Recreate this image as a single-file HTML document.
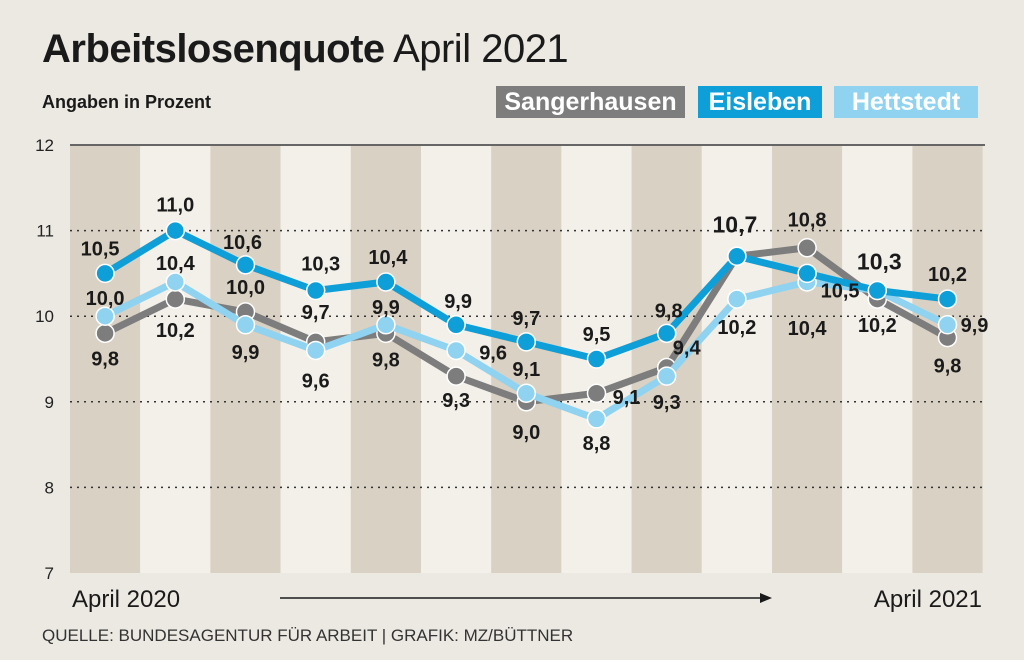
<!DOCTYPE html>
<html><head><meta charset="utf-8"><style>
body{margin:0;background:#ece9e2;font-family:"Liberation Sans",sans-serif;}
#wrap{position:relative;width:1024px;height:660px;overflow:hidden;background:#ece9e2}
.t{position:absolute;color:#1a1a1a}
.lg{position:absolute;top:86px;height:32px;line-height:32px;color:#fff;font-weight:bold;font-size:25px;text-align:center}
</style></head><body>
<div id="wrap">
<div class="t" style="left:42px;top:27px;font-size:40px;letter-spacing:-0.5px"><b>Arbeitslosenquote</b> April 2021</div>
<div class="t" style="left:42px;top:92px;font-size:18px;font-weight:bold">Angaben in Prozent</div>
<div class="lg" style="left:496px;width:189px;background:#7d7d7d">Sangerhausen</div>
<div class="lg" style="left:698px;width:124px;background:#0f9fd8">Eisleben</div>
<div class="lg" style="left:834px;width:144px;background:#8fd3f0">Hettstedt</div>
<svg id="chart" width="1024" height="660" style="position:absolute;left:0;top:0"></svg>
<div class="t" style="left:42px;top:626px;font-size:17px;color:#333">QUELLE: BUNDESAGENTUR FÜR ARBEIT | GRAFIK: MZ/BÜTTNER</div>
</div>
<script>
const months = ["Apr","Mai","Jun","Jul","Aug","Sep","Okt","Nov","Dez","Jan","Feb","Mär","Apr"];
const sangerhausen = [9.8,10.2,10.05,9.7,9.8,9.3,9.0,9.1,9.4,10.7,10.8,10.2,9.75];
const eisleben = [10.5,11.0,10.6,10.3,10.4,9.9,9.7,9.5,9.8,10.7,10.5,10.3,10.2];
const hettstedt = [10.0,10.4,9.9,9.6,9.9,9.6,9.1,8.8,9.3,10.2,10.4,10.3,9.9];
const sangerLabels = ["9,8","10,2","10,0","9,7","9,8","9,3","9,0","9,1","9,4","","10,8","10,2","9,8"];
const eisLabels = ["10,5","11,0","10,6","10,3","10,4","9,9","9,7","9,5","9,8","10,7","10,5","10,3","10,2"];
const hettLabels = ["10,0","10,4","9,9","9,6","9,9","9,6","9,1","8,8","9,3","10,2","10,4","",  "9,9"];
const yTicks = [7,8,9,10,11,12];
// label offsets (layout, not data)
const sOff=[[0,25],[0,31],[0,-25],[0,-30],[0,26],[0,24],[0,30],[30,4],[20,-20],[0,0],[0,-28],[0,26],[0,28]];
const eOff=[[-5,-25],[0,-26],[-3,-23],[5,-27],[2,-25],[2,-24],[0,-24],[0,-25],[2,-23],[-2,-31],[33,17],[2,-28],[0,-25]];
const hOff=[[0,-18],[0,-19],[0,27],[0,30],[0,-18],[37,2],[0,-24],[0,24],[0,26],[0,28],[0,46],[0,0],[27,0]];
const NS="http://www.w3.org/2000/svg", svg=document.getElementById('chart');
const x0=70,colW=70.2,yB=573,unit=85.6;
const X=i=>x0+colW*(i+0.5), Y=v=>yB-(v-7)*unit;
function mk(t,a,p){const e=document.createElementNS(NS,t);for(const k in a)e.setAttribute(k,a[k]);(p||svg).appendChild(e);return e;}
months.forEach((m,i)=>{const r=mk('rect',{x:x0+colW*i,y:Y(12),width:colW,height:yB-Y(12),fill:i%2?'#f3f0ea':'#d9d1c3'});

});
mk('line',{x1:x0,x2:985,y1:Y(12),y2:Y(12),stroke:'#666','stroke-width':2});
yTicks.forEach(v=>{
 if(v>7&&v<12){const l=mk('line',{x1:x0,x2:985,y1:Y(v),y2:Y(v),stroke:'#333','stroke-width':1.5,'stroke-dasharray':'2,5'});
 
 }
 const t=mk('text',{x:54,y:Y(v)+6,'text-anchor':'end','font-size':17,fill:'#222'});t.textContent=v;
 
 
});
function series(vals,col,name){
 const p=mk('polyline',{points:vals.map((v,i)=>X(i)+','+Y(v)).join(' '),fill:'none',stroke:col,'stroke-width':7,'stroke-linejoin':'round'});
 
 
 vals.forEach((v,i)=>{const c=mk('circle',{cx:X(i),cy:Y(v),r:9,fill:col,stroke:'#fff','stroke-width':1.5});
 
 });
}
function labels(vals,labs,off,name){
 vals.forEach((v,i)=>{if(!labs[i])return;
 const big=(name==='eisleben'&&(i===9||i===11));
 const t=mk('text',{x:X(i)+off[i][0],y:Y(v)+off[i][1]+7,'text-anchor':'middle','font-size':big?23:20,'font-weight':'bold',fill:'#1a1a1a'});
 t.textContent=labs[i];
 
 });
}
series(sangerhausen,'#7d7d7d','sangerhausen');
series(hettstedt,'#8fd3f0','hettstedt');
series(eisleben,'#0f9fd8','eisleben');
labels(sangerhausen,sangerLabels,sOff,'sangerhausen');
labels(hettstedt,hettLabels,hOff,'hettstedt');
labels(eisleben,eisLabels,eOff,'eisleben');
const a=mk('text',{x:72,y:607,'font-size':24,fill:'#1a1a1a'});a.textContent='April 2020';


const b=mk('text',{x:982,y:607,'font-size':24,fill:'#1a1a1a','text-anchor':'end'});b.textContent='April 2021';


const ar=mk('line',{x1:280,x2:762,y1:598,y2:598,stroke:'#1a1a1a','stroke-width':1.5});


mk('polygon',{points:'772,598 760,593 760,603',fill:'#1a1a1a'});
</script>
</body></html>
